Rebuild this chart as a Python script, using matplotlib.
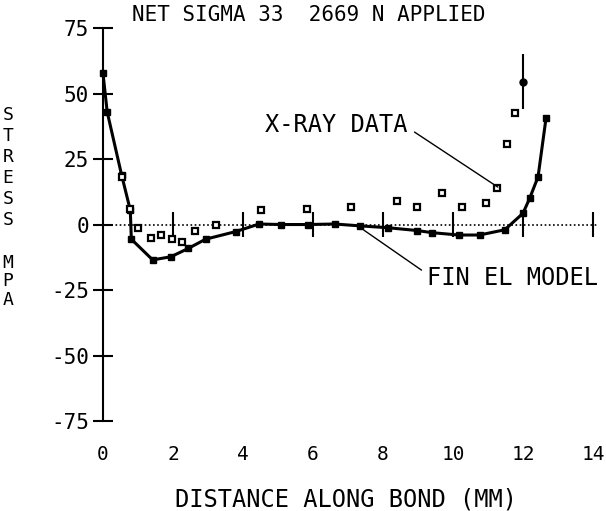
import matplotlib
matplotlib.use("Agg")
import matplotlib.pyplot as plt

# finite element model curve
fe_x = [0.0, 0.12, 0.53, 0.78, 0.81, 1.42, 1.94, 2.44, 2.93, 3.79, 4.46, 5.1,
        5.86, 6.62, 7.33, 8.13, 8.98, 9.4, 10.16, 10.76, 11.48, 12.0, 12.19,
        12.43, 12.66]
fe_y = [57.7, 43.0, 19.0, 5.5, -5.6, -13.5, -12.3, -9.1, -5.6, -2.7, 0.2, 0.0,
        0.0, 0.2, -0.5, -1.2, -2.3, -3.1, -4.0, -4.0, -2.0, 4.3, 10.0,
        18.2, 40.8]

# x-ray measurements
xr_x = [0.55, 0.78, 1.0, 1.36, 1.66, 1.97, 2.27, 2.63, 3.22, 4.52, 5.82, 7.09,
        8.39, 8.98, 9.69, 10.27, 10.93, 11.25, 11.53, 11.76]
xr_y = [18.0, 6.0, -1.5, -5.3, -4.0, -5.6, -6.6, -2.4, 0.0, 5.5, 5.8, 6.6,
        9.0, 6.8, 11.9, 6.8, 8.1, 13.8, 30.7, 42.7]

# point with error bar
eb_x = [12.0]
eb_y = [54.5]
eb_err = [10.5]

x_ticks = [0, 2, 4, 6, 8, 10, 12, 14]
y_ticks = [-75, -50, -25, 0, 25, 50, 75]

mono = "DejaVu Sans Mono"

fig = plt.figure(figsize=(6.06, 5.11), dpi=100)
ax = fig.add_axes([0.1584, 0.1607, 0.8317, 0.7998])
ax.set_xlim(-0.2, 14.2)
ax.set_ylim(-78, 78)

# plotter style axes
for s in ["top", "right", "bottom"]:
    ax.spines[s].set_visible(False)
ax.spines["left"].set_position(("data", 0))
ax.spines["left"].set_bounds(-75, 75)
ax.spines["left"].set_linewidth(1.5)
ax.set_yticks(y_ticks)
ax.set_yticklabels([str(v) for v in y_ticks], family=mono, fontsize=15)
ax.tick_params(axis="y", direction="inout", length=14, width=1.5, pad=3)
ax.set_xticks(x_ticks)
ax.set_xticklabels([str(v) for v in x_ticks], family=mono, fontsize=14)
ax.tick_params(axis="x", length=0, pad=11.5)

# dotted zero line with crossing ticks
ax.plot([0, 14.1], [0, 0], color="k", ls=(0, (1, 1.5)), lw=1.2)
ax.vlines(x_ticks[1:], -4.6, 4.6, color="k", lw=1.5)

ax.plot(fe_x, fe_y, color="k", lw=2.2, marker="s", ms=5)
ax.plot(xr_x, xr_y, ls="none", marker="s", ms=5, mfc="white", mec="k", mew=1.6)
ax.errorbar(eb_x, eb_y, yerr=eb_err, fmt="o", color="k", ms=5, lw=1.5, capsize=0)

# labels with pointer lines
ax.text(4.62, 38, "X-RAY DATA", family=mono, fontsize=17, va="center", ha="left")
ax.annotate("", xy=(11.28, 14.3), xytext=(8.9, 35.3),
            arrowprops=dict(arrowstyle="-", lw=1, color="k", shrinkA=0, shrinkB=0))
ax.text(9.25, -20.4, "FIN EL MODEL", family=mono, fontsize=17, va="center", ha="left")
ax.annotate("", xy=(9.1, -17.4), xytext=(7.45, -2.1),
            arrowprops=dict(arrowstyle="-", lw=1, color="k", shrinkA=0, shrinkB=0))

fig.text(0.509, 1 - 15 / 511, "NET SIGMA 33  2669 N APPLIED", family=mono,
         fontsize=15, ha="center", va="center")
fig.text(346 / 606, 1 - 499 / 511, "DISTANCE ALONG BOND (MM)", family=mono,
         fontsize=17, ha="center", va="center")

# stacked y label
for i, ch in enumerate("STRESS"):
    fig.text(8 / 606, 1 - (115 + 21 * i) / 511, ch, family=mono, fontsize=13,
             ha="center", va="center")
for i, ch in enumerate("MPA"):
    fig.text(8 / 606, 1 - (263 + 18.5 * i) / 511, ch, family=mono, fontsize=13,
             ha="center", va="center")

fig.savefig("out.png", dpi=100)
